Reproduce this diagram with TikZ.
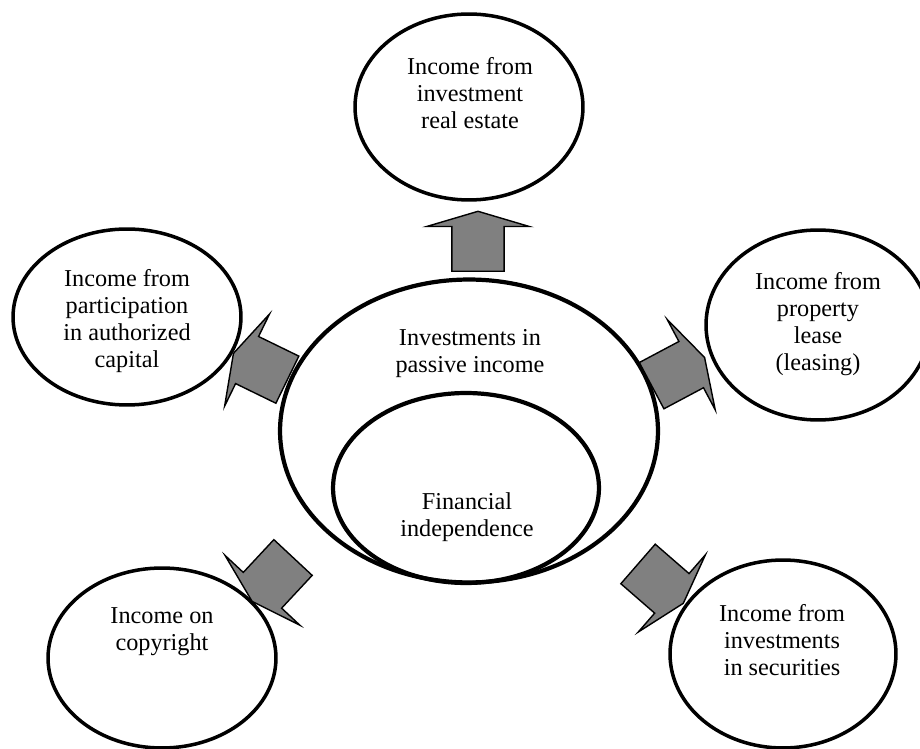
\documentclass[tikz,border=0pt]{standalone}
\usepackage{fontspec}
\setmainfont{Liberation Serif}
\usetikzlibrary{shapes.geometric, shapes.arrows}

\begin{document}
\begin{tikzpicture}[x=0.02cm, y=-0.02cm,
    ring/.style={ellipse, draw, line width=2.4pt, inner sep=0pt},
    income/.style={ellipse, draw, line width=2pt, inner sep=0pt},
    caption/.style={align=center, font=\fontsize{13.8}{15.4}\selectfont},
    flow/.style={single arrow, draw, fill=gray, line width=0.8pt,
        inner xsep=0pt, inner ysep=0.51cm, minimum height=1.2cm,
        single arrow head extend=0.5cm, single arrow tip angle=147,
        anchor=tail}]
    \useasboundingbox (0,0) rectangle (920,749);

    % centre
    \node[ring, minimum width=7.56cm, minimum height=6.06cm](passive)   at (469,431) {};
    \node[ring, minimum width=5.32cm, minimum height=3.8cm](indep)      at (466,488) {};
    \node[caption](passive_t)                                           at (470,354) {Investments in\\passive income};
    \node[caption](indep_t)                                             at (467,517) {Financial\\independence};

    % sources of income
    \node[income, minimum width=4.56cm, minimum height=3.72cm](estate)  at (469,107) {};
    \node[income, minimum width=4.56cm, minimum height=3.52cm](capital) at (127,317) {};
    \node[income, minimum width=4.48cm, minimum height=3.8cm](lease)    at (818,325) {};
    \node[income, minimum width=4.56cm, minimum height=3.6cm](copy)     at (162,658) {};
    \node[income, minimum width=4.52cm, minimum height=3.76cm](secur)   at (783,654) {};
    \node[caption](estate_t)                                            at (470,93)  {Income from\\investment\\real estate};
    \node[caption](capital_t)                                           at (127,321) {Income from\\participation\\in authorized\\capital};
    \node[caption](lease_t)                                             at (818,324) {Income from\\property\\lease\\(leasing)};
    \node[caption](copy_t)                                              at (162,632) {Income on\\copyright};
    \node[caption](secur_t)                                             at (782,640) {Income from\\investments\\in securities};

    % arrows
    \node[flow, rotate=90](to_estate)                                   at (478,272) {};
    \node[flow, rotate=154](to_capital)                                 at (288,380) {};
    \node[flow, rotate=28](to_lease)                                    at (651,386) {};
    \node[flow, rotate=227](to_copy)                                    at (293.5,557) {};
    \node[flow, rotate=-41](to_secur)                                   at (637.5,563.5) {};
\end{tikzpicture}
\end{document}
